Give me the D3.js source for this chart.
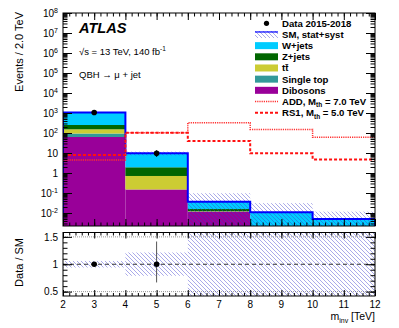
<!DOCTYPE html>
<html><head><meta charset="utf-8">
<script src="https://cdn.jsdelivr.net/npm/d3@7"></script>
<style>body{margin:0;background:#fff}svg{display:block;font-family:"Liberation Sans",Arial,Helvetica,sans-serif}</style>
</head><body><svg id="c" width="399" height="328"></svg>
<script>
// ---------------- data ----------------
const binEdges = [2, 4, 6, 8, 10, 12];
const dibosons  = [63, 0.15, 0.0117, 0, 0];
const singleTop = [31, 0, 0, 0, 0];
const ttbar     = [59, 0.56, 0.0005, 0, 0];
const zjets     = [98, 1.22, 0.0036, 0, 0];
const wjets     = [810, 7.7, 0.021, 0.0108, 0.005];
const bandUp    = [1125, 11.7, 0.097, 0.031, 0.0117];
const bandDown  = [997, 7.6, 0.0005, 0.0005, 0.0005];
const dataX     = [3, 5];
const dataY     = [1061, 9.63];
const dataErrLo = [32, 3.2];
const dataErrHi = [33, 4.0];
const addSignal = [4.5, 103, 330, 150, 61];
const rs1Signal = [7.9, 103, 40, 9.6, 4.8];
const xTickLabels = [2, 3, 4, 5, 6, 7, 8, 9, 10, 11, 12];
const yTickExps = [-2, -1, 0, 1, 2, 3, 4, 5, 6, 7, 8];
const ratioTickLabels = [0.5, 1, 1.5];
const legendLabels = ["Data 2015-2018", "SM, stat+syst", "W+jets", "Z+jets", "tt\u0304", "Single top", "Dibosons", "ADD, M", "RS1, M"];

// ---------------- layout ----------------
const L = 63, R = 375, mTop = 13, mBot = 226, rTop = 232.5, rBot = 296;
const svg = d3.select("#c");
const x = d3.scaleLinear().domain([2, 12]).range([L, R]);
const y = d3.scaleLog().domain([Math.pow(10, -2.65), 1e8]).range([mBot, mTop]);
const yr = d3.scaleLinear().domain([0.42, 1.58]).range([rBot, rTop]);

const defs = svg.append("defs");
const pat = defs.append("pattern").attr("id", "hatch").attr("patternUnits", "userSpaceOnUse")
  .attr("width", 4).attr("height", 4);
pat.append("path").attr("d", "M-1,-1 L5,5 M-1,3 L1,5 M3,-1 L5,1")
  .attr("stroke", "#3b3bcc").attr("stroke-width", 0.8).attr("stroke-opacity", 0.55);
defs.append("clipPath").attr("id", "clipMain").append("rect")
  .attr("x", L).attr("y", mTop).attr("width", R - L).attr("height", mBot - mTop);
defs.append("clipPath").attr("id", "clipRatio").append("rect")
  .attr("x", L).attr("y", rTop).attr("width", R - L).attr("height", rBot - rTop);

const colors = { dib: "#990099", st: "#339999", tt: "#cccc33", z: "#006600", w: "#00ccff" };
const addStyle = { stroke: "#ff3030", width: 1.5, dash: "1.2,1" };
const rsStyle = { stroke: "#ff1010", width: 2, dash: "3,2" };
const layers = [
  { v: dibosons, c: colors.dib }, { v: singleTop, c: colors.st }, { v: ttbar, c: colors.tt },
  { v: zjets, c: colors.z }, { v: wjets, c: colors.w }
];
const nb = binEdges.length - 1;
const totals = d3.range(nb).map(i => layers.reduce((s, l) => s + l.v[i], 0));

// ---------------- main panel ----------------
const gm = svg.append("g").attr("clip-path", "url(#clipMain)");
d3.range(nb).forEach(i => {
  let cum = 0;
  layers.forEach(l => {
    const val = l.v[i];
    if (val <= 0) return;
    const y0 = cum > 0 ? y(cum) : mBot;
    cum += val;
    const y1 = y(cum);
    gm.append("rect").attr("x", x(binEdges[i])).attr("width", x(binEdges[i + 1]) - x(binEdges[i]))
      .attr("y", y1).attr("height", Math.max(0, y0 - y1)).attr("fill", l.c);
  });
});
// uncertainty band
d3.range(nb).forEach(i => {
  gm.append("rect").attr("x", x(binEdges[i])).attr("width", x(binEdges[i + 1]) - x(binEdges[i]))
    .attr("y", y(bandUp[i])).attr("height", y(bandDown[i]) - y(bandUp[i])).attr("fill", "url(#hatch)");
});
// total outline
let p = `M${x(binEdges[0])},${mBot}`;
d3.range(nb).forEach(i => { p += `L${x(binEdges[i])},${y(totals[i])}L${x(binEdges[i + 1])},${y(totals[i])}`; });
p += `L${x(binEdges[nb])},${mBot}`;
gm.append("path").attr("d", p).attr("fill", "none").attr("stroke", "#0000ff").attr("stroke-width", 2);
// signals
function stepPath(vals) {
  let s = "";
  d3.range(nb).forEach(i => { s += (i === 0 ? "M" : "L") + `${x(binEdges[i])},${y(vals[i])}L${x(binEdges[i + 1])},${y(vals[i])}`; });
  return s;
}
gm.append("path").attr("d", stepPath(addSignal)).attr("fill", "none").attr("stroke", addStyle.stroke)
  .attr("stroke-width", addStyle.width).attr("stroke-dasharray", addStyle.dash);
gm.append("path").attr("d", stepPath(rs1Signal)).attr("fill", "none").attr("stroke", rsStyle.stroke)
  .attr("stroke-width", rsStyle.width).attr("stroke-dasharray", rsStyle.dash);
// data
dataX.forEach((dx, i) => {
  gm.append("line").attr("x1", x(dx)).attr("x2", x(dx)).attr("y1", y(dataY[i] - dataErrLo[i])).attr("y2", y(dataY[i] + dataErrHi[i]))
    .attr("stroke", "#000").attr("stroke-width", 1);
  gm.append("circle").attr("cx", x(dx)).attr("cy", y(dataY[i])).attr("r", 2.8).attr("fill", "#000");
});

// ---------------- ratio panel ----------------
const gr = svg.append("g").attr("clip-path", "url(#clipRatio)");
[0.5, 1.5].forEach(v => gr.append("line").attr("x1", L).attr("x2", R).attr("y1", yr(v)).attr("y2", yr(v))
  .attr("stroke", "#999").attr("stroke-width", 1).attr("stroke-dasharray", "1,1"));
d3.range(nb).forEach(i => {
  const up = bandUp[i] / totals[i], dn = bandDown[i] / totals[i];
  gr.append("rect").attr("x", x(binEdges[i])).attr("width", x(binEdges[i + 1]) - x(binEdges[i]))
    .attr("y", yr(Math.min(up, 1.7))).attr("height", yr(Math.max(dn, 0.3)) - yr(Math.min(up, 1.7))).attr("fill", "url(#hatch)");
});
gr.append("line").attr("x1", L).attr("x2", R).attr("y1", yr(1)).attr("y2", yr(1))
  .attr("stroke", "#333").attr("stroke-width", 1).attr("stroke-dasharray", "4,3");
dataX.forEach((dx, i) => {
  const bi = binEdges.findIndex((e, k) => dx > e && dx < binEdges[k + 1]);
  const r = dataY[i] / totals[bi];
  gr.append("line").attr("x1", x(dx)).attr("x2", x(dx))
    .attr("y1", yr((dataY[i] - dataErrLo[i]) / totals[bi])).attr("y2", yr((dataY[i] + dataErrHi[i]) / totals[bi]))
    .attr("stroke", "#555").attr("stroke-width", 1);
  gr.append("circle").attr("cx", x(dx)).attr("cy", yr(r)).attr("r", 2.8).attr("fill", "#000");
});

// ---------------- axes / ticks ----------------
function clean(g) { g.select(".domain").remove(); g.selectAll("text").remove(); g.selectAll("line").attr("stroke", "#000"); }
const xMinor = d3.range(2, 12.001, 0.2).map(v => +v.toFixed(1));
[[mBot, "b"], [mTop, "t"], [rBot, "b"], [rTop, "t"]].forEach(([yy, side]) => {
  const ax = side === "b" ? d3.axisBottom(x) : d3.axisTop(x);
  const big = (yy === rTop || yy === rBot) ? -6 : -7;
  svg.append("g").attr("transform", `translate(0,${yy})`).call(ax.tickValues(xTickLabels).tickSize(big)).call(clean);
  const ax2 = side === "b" ? d3.axisBottom(x) : d3.axisTop(x);
  svg.append("g").attr("transform", `translate(0,${yy})`).call(ax2.tickValues(xMinor).tickSize(big / 2)).call(clean);
});
const decades = yTickExps.map(e => Math.pow(10, e));
const yMinor = [];
for (let e = -3; e < 8; e++) for (let k = 2; k <= 9; k++) { const v = k * Math.pow(10, e); if (v >= y.domain()[0] && v <= 1e8) yMinor.push(v); }
[[L, d3.axisLeft], [R, d3.axisRight]].forEach(([xx, A]) => {
  svg.append("g").attr("transform", `translate(${xx},0)`).call(A(y).tickValues(decades).tickSize(-9)).call(clean);
  svg.append("g").attr("transform", `translate(${xx},0)`).call(A(y).tickValues(yMinor).tickSize(-4.5)).call(clean);
  svg.append("g").attr("transform", `translate(${xx},0)`).call(A(yr).tickValues(ratioTickLabels).tickSize(-9)).call(clean);
  svg.append("g").attr("transform", `translate(${xx},0)`).call(A(yr).tickValues(d3.range(5, 16).map(v => v / 10)).tickSize(-4.5)).call(clean);
});
// frames
svg.append("rect").attr("x", L).attr("y", mTop).attr("width", R - L).attr("height", mBot - mTop).attr("fill", "none").attr("stroke", "#000").attr("stroke-width", 1);
svg.append("rect").attr("x", L).attr("y", rTop).attr("width", R - L).attr("height", rBot - rTop).attr("fill", "none").attr("stroke", "#000").attr("stroke-width", 1);

// tick labels
yTickExps.forEach(e => {
  const t = svg.append("text").attr("x", 58).attr("y", y(Math.pow(10, e)) + 4).attr("text-anchor", "end")
    .attr("font-size", 10).attr("fill", "#000");
  if (e === 0) t.text("1");
  else if (e === 1) t.text("10");
  else { t.append("tspan").text("10"); t.append("tspan").attr("font-size", 7).attr("dy", -4.5).text(e); }
});
ratioTickLabels.forEach(v => svg.append("text").attr("x", 58).attr("y", yr(v) + 3.8).attr("text-anchor", "end")
  .attr("font-size", 10).text(v));
xTickLabels.forEach(v => svg.append("text").attr("x", x(v)).attr("y", 308).attr("text-anchor", "middle")
  .attr("font-size", 10).text(v));

// axis titles
const xt = svg.append("text").attr("x", R).attr("y", 320).attr("text-anchor", "end").attr("font-size", 10.5);
xt.append("tspan").text("m");
xt.append("tspan").attr("font-size", 7).attr("dy", 2.5).text("inv");
xt.append("tspan").attr("dy", -2.5).text(" [TeV]");
svg.append("text").attr("transform", "translate(23,12) rotate(-90)").attr("text-anchor", "end").attr("font-size", 11).text("Events / 2.0 TeV");
svg.append("text").attr("transform", "translate(23,238) rotate(-90)").attr("text-anchor", "end").attr("font-size", 11).text("Data / SM");

// ATLAS labels
svg.append("text").attr("x", 79).attr("y", 33).attr("font-size", 14.6).attr("font-weight", "bold").attr("font-style", "italic").text("ATLAS");
const lumi = svg.append("text").attr("x", 79).attr("y", 55).attr("font-size", 9.5);
lumi.append("tspan").text("\u221As = 13 TeV, 140 fb");
lumi.append("tspan").attr("font-size", 6.5).attr("dy", -4).text("-1");
svg.append("text").attr("x", 79).attr("y", 78).attr("font-size", 9.5).text("QBH \u2192 \u03BC + jet");

// legend
const lg = svg.append("g").attr("font-size", 9.6).attr("font-weight", "bold");
const ly0 = 23.3, ldy = 11.17, bx = 255, bw = 23, bh = 7, tx = 282;
legendLabels.forEach((lab, i) => {
  const cy = ly0 + i * ldy;
  if (i === 0) lg.append("circle").attr("cx", bx + bw / 2).attr("cy", cy).attr("r", 2.6).attr("fill", "#000");
  else if (i === 1) {
    lg.append("rect").attr("x", bx).attr("y", cy - bh / 2).attr("width", bw).attr("height", bh).attr("fill", "url(#hatch)");
    lg.append("line").attr("x1", bx).attr("x2", bx + bw).attr("y1", cy - bh / 2 + 1).attr("y2", cy - bh / 2 + 1).attr("stroke", "#0000ff").attr("stroke-width", 1.2);
  } else if (i >= 2 && i <= 6) {
    const c = [colors.w, colors.z, colors.tt, colors.st, colors.dib][i - 2];
    lg.append("rect").attr("x", bx).attr("y", cy - bh / 2).attr("width", bw).attr("height", bh).attr("fill", c);
  } else {
    const st = i === 7 ? addStyle : rsStyle;
    lg.append("line").attr("x1", bx).attr("x2", bx + bw).attr("y1", cy).attr("y2", cy).attr("stroke", st.stroke).attr("stroke-width", st.width).attr("stroke-dasharray", st.dash);
  }
  const t = lg.append("text").attr("x", tx).attr("y", cy + 3.5);
  t.append("tspan").text(lab);
  if (i === 7 || i === 8) {
    t.append("tspan").attr("font-size", 6.5).attr("dy", 2.5).text("th");
    t.append("tspan").attr("dy", -2.5).text(i === 7 ? " = 7.0 TeV" : " = 5.0 TeV");
  }
});
</script></body></html>
